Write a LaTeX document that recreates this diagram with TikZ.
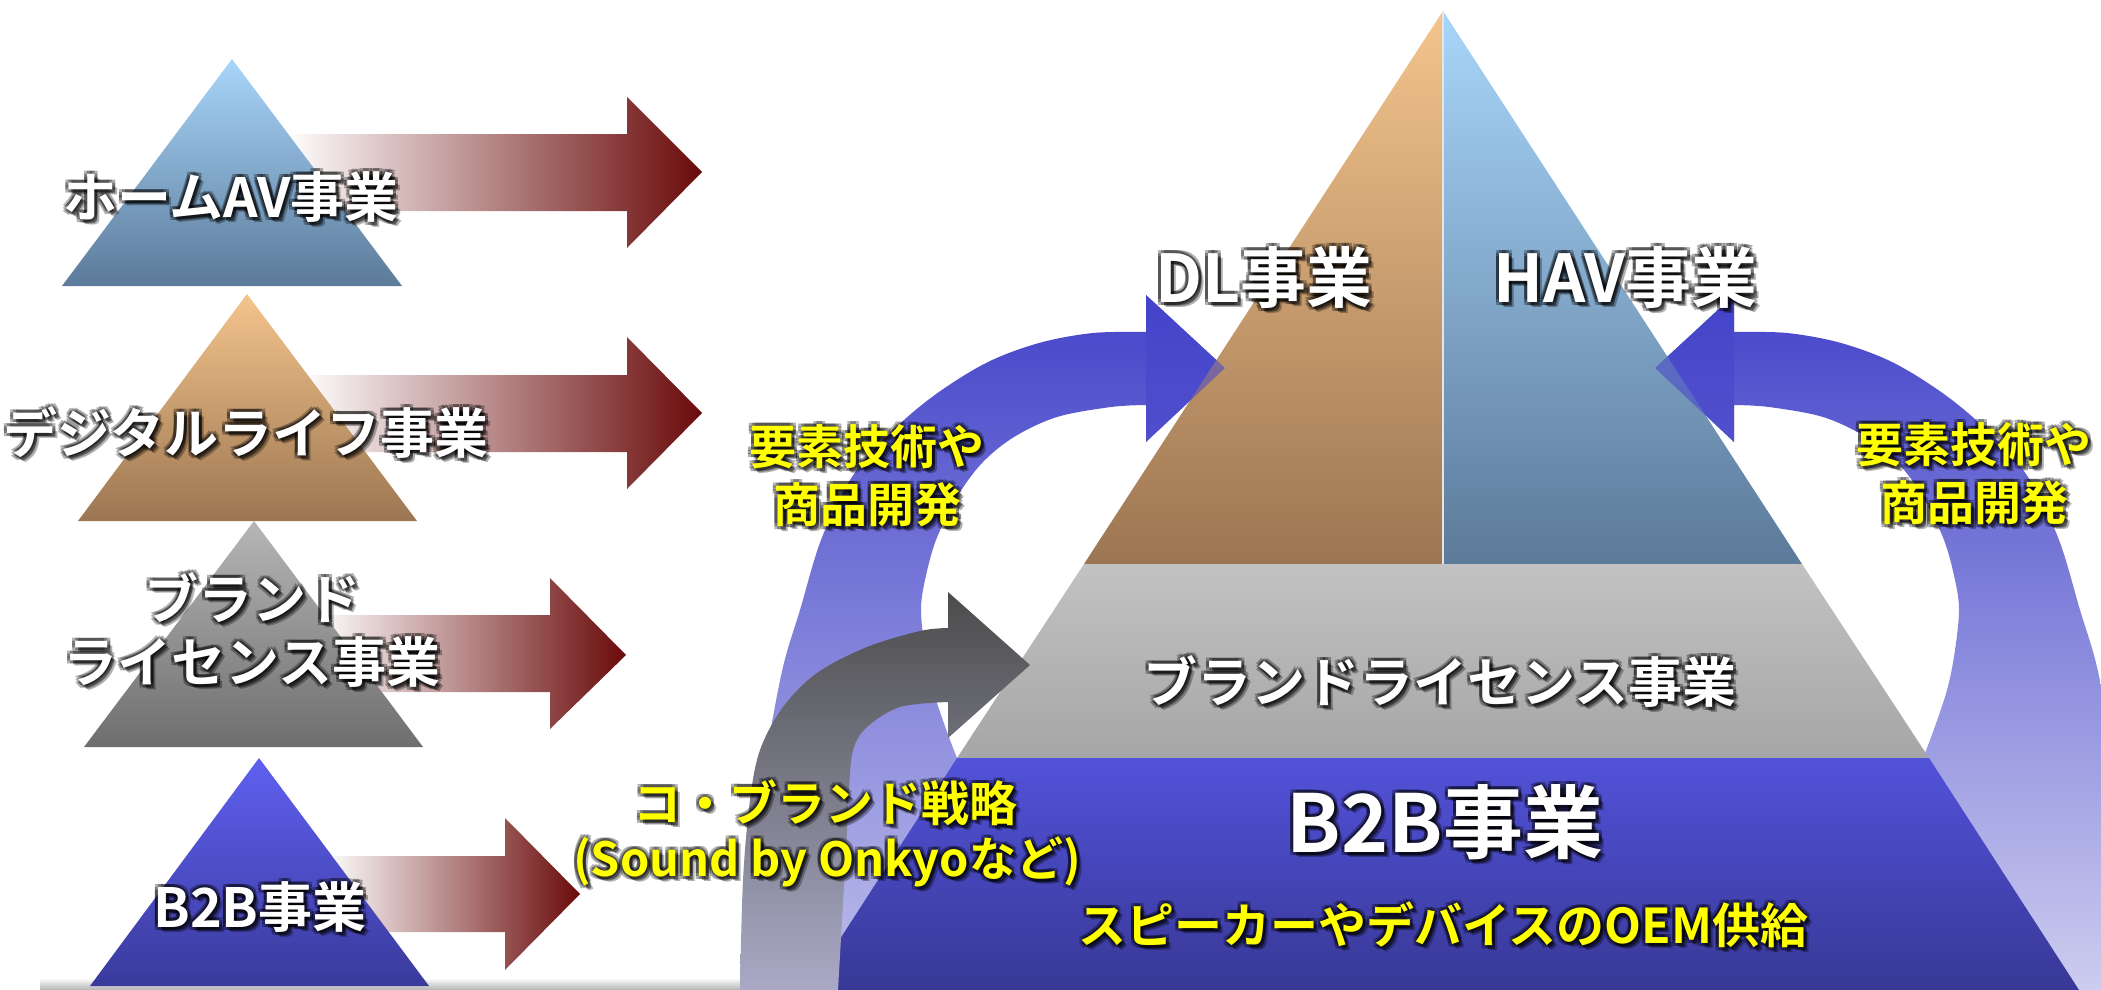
\documentclass[tikz,border=0pt]{standalone}
\usepackage{fontspec}
\newfontfamily\jp{Noto Sans CJK JP}[BoldFont={Noto Sans CJK JP Bold}]
\definecolor{arrred}{HTML}{6A0A0A}
\definecolor{havtop}{HTML}{A8D6FA}
\definecolor{havbot}{HTML}{5C7A9A}
\definecolor{dltop}{HTML}{F4C48C}
\definecolor{dlbot}{HTML}{9C7652}
\definecolor{brtop}{HTML}{B6B6B6}
\definecolor{brbot}{HTML}{6E6E6E}
\definecolor{btop}{HTML}{5F60F0}
\definecolor{bbot}{HTML}{3A3A9C}
\definecolor{graytop}{HTML}{C2C2C2}
\definecolor{graybot}{HTML}{A6A6A6}
\definecolor{tiertop}{HTML}{5252DA}
\definecolor{tierbot}{HTML}{383896}
\definecolor{bandtop}{HTML}{4444CA}
\definecolor{bandmid}{HTML}{6A6ACC}
\definecolor{bandbot}{HTML}{E2E2F4}
\definecolor{bandbotr}{HTML}{F6F6FB}
\definecolor{cotop}{HTML}{4C4C4C}
\definecolor{comid}{HTML}{6A6A6C}
\definecolor{cobot}{HTML}{BABADC}
\definecolor{ylw}{HTML}{FFFF00}
\newcommand\gtxt[5]{%
  \foreach \gx/\gy in {-3/-3,-3/0,-3/3,0/-3,0/3,3/-3,3/0,3/3,3/-4,5/-5}{%
    \node[#3, text=#4, text opacity=0.3] at ([xshift=\gx pt,yshift=\gy pt]#2) {#5};
  }%
  \node[#3] (#1) at (#2) {#5};
}
\newcommand\bandpath{(742,990) -- plot[smooth,tension=0.55] coordinates {(742,990) (743,917) (750,850) (767,750) (783,667) (800,610) (821,540) (850,480) (886,437) (932,397) (986,363) (1039,343) (1093,333) (1146,332)} -- (1146,295) -- (1225,368) -- (1146,442) -- (1146,405) -- plot[smooth,tension=0.55] coordinates {(1146,405) (1111,407) (1057,417) (1014,437) (982,463) (957,497) (936,540) (925,580) (921,610) (925,650) (933,690) (950,740) (970,790)} -- (1000,990) -- cycle (742,1200)}
\newcommand\headpath{(1146,295) -- (1225,368) -- (1146,442) -- cycle}
\begin{document}
\begin{tikzpicture}[x=1pt,y=-1pt,
  lbl/.style={font=\jp\bfseries\fontsize{54}{63}\selectfont, align=center, inner sep=0pt, text=white},
  bigl/.style={font=\jp\bfseries\fontsize{66}{76}\selectfont, align=center, inner sep=0pt, text=white},
  hugel/.style={font=\jp\bfseries\fontsize{80}{90}\selectfont, align=center, inner sep=0pt, text=white},
  ylwl/.style={font=\jp\bfseries\fontsize{47}{58}\selectfont, align=center, inner sep=0pt, text=ylw},
  ylwm/.style={font=\jp\bfseries\fontsize{48}{58}\selectfont, align=center, inner sep=0pt, text=ylw},
  redarrow/.style={left color=white, right color=arrred},
  band/.style={top color=bandtop, middle color=bandmid, bottom color=bandbot},
  bandr/.style={top color=bandtop, middle color=bandmid, bottom color=bandbotr},
]
\useasboundingbox (0,0) rectangle (2101,990);
% bottom shadow strip
\shade[top color=white, bottom color=black!30] (40,978) rectangle (2101,990);

% red arrows (under triangles)
\shade[redarrow] (285,134) -- (627,134) -- (627,97) -- (702,172) -- (627,248) -- (627,211) -- (285,211) -- cycle;
\shade[redarrow] (300,375) -- (627,375) -- (627,337) -- (702,413) -- (627,489) -- (627,452) -- (300,452) -- cycle;
\shade[redarrow] (315,615) -- (550,615) -- (550,578) -- (626,655) -- (550,729) -- (550,692) -- (315,692) -- cycle;
\shade[redarrow] (325,856) -- (505,856) -- (505,818) -- (580,894) -- (505,970) -- (505,932) -- (325,932) -- cycle;

% left triangles
\shade[top color=havtop, bottom color=havbot] (232,59) -- (402,286) -- (62,286) -- cycle;
\shade[top color=dltop, bottom color=dlbot] (247,294) -- (417,521) -- (78,521) -- cycle;
\shade[top color=brtop, bottom color=brbot] (254,521) -- (423,747) -- (84,747) -- cycle;
\shade[top color=btop, bottom color=bbot] (259,758) -- (429,986) -- (90,986) -- cycle;

% blue circular bands (under pyramid)
\shade[band] \bandpath;
\begin{scope}[shift={(2880,0)}, xscale=-1]
  \shade[bandr] \bandpath;
\end{scope}

% big pyramid
\shade[top color=dltop, bottom color=dlbot] (1443,11) -- (1443,564) -- (1084,564) -- cycle;
\shade[top color=havtop, bottom color=havbot] (1443,11) -- (1802,564) -- (1443,564) -- cycle;
\draw[white!80!gray, line width=1.5pt] (1443,11) -- (1443,564);
\shade[top color=graytop, bottom color=graybot] (1084,564) -- (1802,564) -- (1929,758) -- (957,758) -- cycle;
\shade[top color=tiertop, bottom color=tierbot] (957,758) -- (1929,758) -- (2079,990) -- (807,990) -- cycle;

% translucent arrow heads over the pyramid
\fill[bandtop, opacity=0.55] \headpath;
\begin{scope}[shift={(2880,0)}, xscale=-1]
  \fill[bandtop, opacity=0.55] \headpath;
\end{scope}

% co-brand grey arrow
\shade[top color=cotop, middle color=comid, bottom color=cobot]
  (740,990) -- plot[smooth,tension=0.55] coordinates {(740,990) (743,880) (750,800) (760,750) (783,707) (817,673) (867,647) (920,631) (948,628)}
  -- (948,592) -- (1030,665) -- (948,738) -- (948,702)
  -- plot[smooth,tension=0.55] coordinates {(948,702) (900,707) (867,727) (853,750) (849,790) (846,850) (838,990)} -- cycle (740,1060);

% texts
\gtxt{tHome}{231,197}{lbl}{black}{ホームAV事業}
\gtxt{tDigital}{246,433}{lbl}{black}{デジタルライフ事業}
\gtxt{tBrand}{252,630}{lbl}{black}{ブランド\\ライセンス事業}
\gtxt{tBtoB}{260,907}{lbl}{black}{B2B事業}

\gtxt{tDL}{1264,277}{bigl}{black}{DL事業}
\gtxt{tHAV}{1625,277}{bigl}{black}{HAV事業}
\gtxt{tBrandR}{1440,682}{lbl}{black}{ブランドライセンス事業}
\gtxt{tBtoBR}{1445,822}{hugel}{black}{B2B事業}
\gtxt{tOEM}{1443,925}{ylwm}{black}{スピーカーやデバイスのOEM供給}
\gtxt{tTechL}{867,476}{ylwl}{black}{要素技術や\\商品開発}
\gtxt{tTechR}{1974,474}{ylwl}{black}{要素技術や\\商品開発}
\gtxt{tCo}{825,803}{ylwm}{black}{コ・ブランド戦略}
\gtxt{tSound}{827,862}{ylwl}{black}{(Sound by Onkyoなど)}
\end{tikzpicture}
\end{document}
